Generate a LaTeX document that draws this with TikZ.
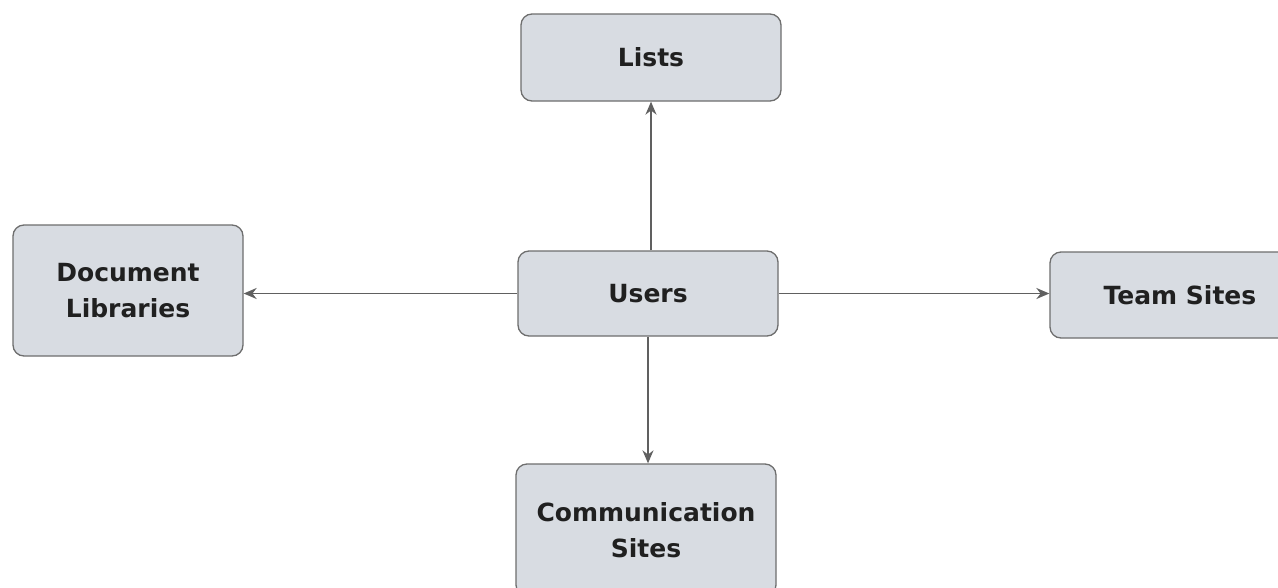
\documentclass[tikz,border=0pt]{standalone}
\usepackage{fontspec}
\setmainfont{DejaVu Sans}
\usetikzlibrary{arrows.meta}
\definecolor{boxfill}{HTML}{D8DCE2}
\definecolor{boxline}{HTML}{6E6E6E}
\definecolor{arrowc}{HTML}{606060}
\definecolor{txt}{HTML}{202020}
\begin{document}
\begin{tikzpicture}[x=1pt,y=-1pt,
  box/.style={draw=boxline,fill=boxfill,line width=1.3pt,rounded corners=11pt,
    align=center,text=txt,font=\fontsize{25}{36}\selectfont\bfseries,inner sep=0pt},
  conn/.style={draw=arrowc,line width=1.6pt,-{Stealth[length=13pt,width=11pt]}}]
\useasboundingbox (0,0) rectangle (1278,587);
\fill[white] (0,0) rectangle (1278,587);
\node[box,minimum width=260pt,minimum height=87pt] (lists) at (651,57.5) {Lists};
\node[box,minimum width=260pt,minimum height=85pt] (users) at (648,293.5) {Users};
\node[box,minimum width=230pt,minimum height=131pt] (doc) at (128,290.5) {Document\\Libraries};
\node[box,minimum width=260pt,minimum height=86pt] (team) at (1180,295) {Team Sites};
\node[box,minimum width=260pt,minimum height=132pt] (comm) at (646,530) {Communication\\Sites};
\draw[conn] (users.north -| lists.south) -- (lists.south);
\draw[conn] (users.west) -- (doc.east |- users.west);
\draw[conn] (users.east) -- (team.west |- users.east);
\draw[conn] (users.south) -- (comm.north -| users.south);
\end{tikzpicture}
\end{document}
